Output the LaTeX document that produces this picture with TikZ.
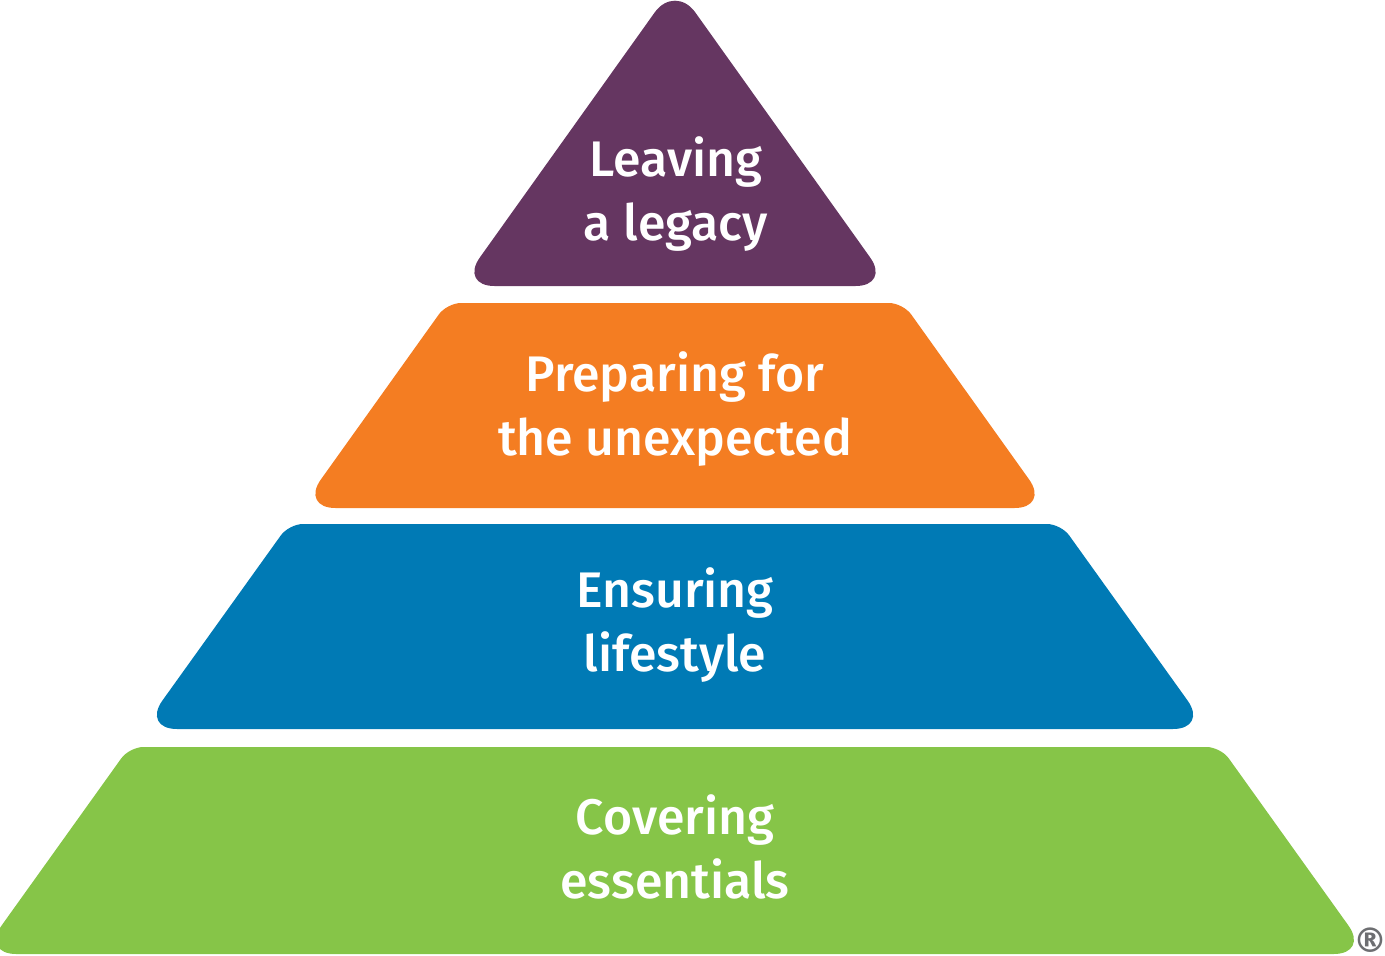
\documentclass[tikz,border=0pt]{standalone}
\usepackage{fontspec}
\newfontfamily\tierfont{Fira Sans Medium}
\newfontfamily\markfont{DejaVu Sans}
\usepackage{tikz}
\usetikzlibrary{positioning}
\definecolor{legacypurple}{HTML}{653661}
\definecolor{unexporange}{HTML}{F47D22}
\definecolor{lifeblue}{HTML}{007AB5}
\definecolor{essgreen}{HTML}{86C548}
\definecolor{markgrey}{HTML}{6D6E71}

\begin{document}
\begin{tikzpicture}[x=1pt, y=-1pt,
		acute/.style={rounded corners=35pt},
		blunt/.style={rounded corners=14pt},
		tierlabel/.style={text=white, align=center, font=\tierfont\fontsize{50}{64}\selectfont}]
	\useasboundingbox (0, 0) rectangle (1385, 956);
	% pyramid, one triangle cut in four
	\fill[acute, legacypurple] (675, 286) -- (890.5, 286) -- (675, -16) -- (459.5, 286) -- cycle;
	\fill[unexporange] (675, 303) [blunt] -- (903, 303) [acute] -- (1049.5, 508) -- (300.5, 508) [blunt] -- (447, 303) -- cycle;
	\fill[lifeblue] (675, 524) [blunt] -- (1061, 524) [acute] -- (1208, 729) -- (142, 729) [blunt] -- (289, 524) -- cycle;
	\fill[essgreen] (675, 747) [blunt] -- (1220.6, 747) [acute] -- (1368.8, 954) -- (-18.8, 954) [blunt] -- (129.4, 747) -- cycle;

	\node[tierlabel] (legacy) at (676, 194) {Leaving\\a legacy};
	\node[tierlabel] (unexpected) at (675, 409) {Preparing for\\the unexpected};
	\node[tierlabel] (lifestyle) at (675, 625) {Ensuring\\lifestyle};
	\node[tierlabel] (essentials) at (675, 847) {Covering\\essentials};

	\node[text=markgrey, inner sep=0pt, font=\markfont\bfseries\fontsize{34}{34}\selectfont] (reg) at (1370, 940) {®};
\end{tikzpicture}
\end{document}
